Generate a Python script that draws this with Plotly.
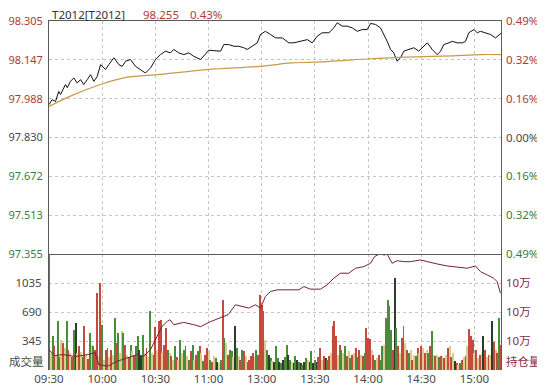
import plotly.graph_objects as go

# ---------------- data ----------------
# x positions are trading minutes since 09:30 (lunch break removed, 11:30 == 13:00)
time_ticks = [0, 30, 60, 90, 120, 150, 180, 210, 240]
time_labels = ["09:30", "10:00", "10:30", "11:00", "13:00", "13:30", "14:00", "14:30", "15:00"]

price_ticks = [98.305, 98.147, 97.988, 97.830, 97.672, 97.513, 97.355]
price_tick_colors = ["r", "r", "r", "n", "g", "g", "g"]
pct_labels = ["0.49%", "0.32%", "0.16%", "0.00%", "0.16%", "0.32%", "0.49%"]

vol_ticks = [345, 690, 1035]
vol_labels = ["345", "690", "1035"]
oi_ticks = [103000, 105000, 107000]
oi_labels = ["10万", "10万", "10万"]

price_min = [0, 1.8, 3.7, 5.5, 6.5, 8.0, 9.3, 10.3, 12.1, 14.0,
             15.9, 17.8, 19.6, 21.6, 23.4, 25.3, 27.2, 29.1, 31.9, 33.7,
             36.6, 39.4, 41.3, 43.2, 46.0, 48.8, 51.6, 54.4, 57.3, 60.1,
             62.9, 65.7, 68.5, 70.4, 73.2, 76.1, 78.9, 81.7, 85.5, 87.3,
             90.2, 93.0, 96.8, 98.6, 101.4, 104.3, 107.1, 109.9, 111.8, 114.6,
             117.5, 119.3, 122.1, 125.0, 127.8, 131.6, 135.3, 138.1, 141.9, 145.7,
             148.5, 151.3, 154.1, 157.9, 160.7, 162.6, 165.4, 168.2, 171.1, 173.9,
             176.7, 179.5, 181.4, 184.2, 187.0, 188.9, 190.8, 192.7, 194.5, 196.4,
             198.3, 200.2, 203.0, 205.8, 208.6, 211.5, 213.4, 216.2, 219.0, 220.9,
             222.7, 225.6, 227.5, 230.3, 233.1, 235.0, 236.8, 239.7, 241.6, 243.4,
             246.3, 249.1, 251.9, 253.8, 255]
price_val = [97.964, 97.984, 97.977, 98.018, 98.005, 98.025, 98.046, 98.033, 98.059, 98.073,
             98.052, 98.066, 98.046, 98.066, 98.086, 98.059, 98.079, 98.127, 98.107, 98.127,
             98.155, 98.127, 98.120, 98.141, 98.148, 98.120, 98.107, 98.093, 98.114, 98.148,
             98.168, 98.182, 98.175, 98.189, 98.175, 98.168, 98.175, 98.161, 98.148, 98.161,
             98.186, 98.184, 98.182, 98.209, 98.209, 98.202, 98.202, 98.196, 98.189, 98.202,
             98.216, 98.250, 98.263, 98.250, 98.236, 98.236, 98.216, 98.216, 98.222, 98.229,
             98.216, 98.243, 98.257, 98.257, 98.277, 98.298, 98.284, 98.284, 98.277, 98.263,
             98.270, 98.270, 98.295, 98.291, 98.277, 98.250, 98.222, 98.189, 98.175, 98.141,
             98.155, 98.182, 98.189, 98.196, 98.182, 98.202, 98.216, 98.189, 98.168, 98.182,
             98.209, 98.216, 98.222, 98.216, 98.216, 98.222, 98.257, 98.270, 98.257, 98.263,
             98.257, 98.250, 98.236, 98.250, 98.255]

avg_min = [0, 14.0, 29.1, 42.2, 61.0, 89.2, 119.3, 136.6, 149.3, 181.4, 196.4, 230.3, 243.4, 255]
avg_val = [97.957, 98.005, 98.046, 98.073, 98.086, 98.107, 98.120, 98.134, 98.137, 98.151,
           98.157, 98.164, 98.168, 98.168]

vol_min = list(range(256))
vol_val = [1400, 200, 409, 282, 180, 578, 150, 361, 326, 267,
           578, 243, 207, 150, 480, 559, 207, 282, 220, 150,
           519, 184, 130, 441, 302, 282, 243, 922, 170, 1033,
           539, 124, 243, 267, 150, 243, 180, 618, 322, 441,
           200, 460, 441, 302, 184, 150, 302, 222, 180, 282,
           400, 243, 163, 420, 207, 267, 150, 705, 207, 180,
           512, 243, 586, 598, 200, 302, 500, 243, 207, 163,
           120, 282, 150, 124, 361, 200, 243, 282, 163, 120,
           222, 302, 124, 180, 222, 282, 207, 110, 180, 267,
           243, 124, 100, 163, 143, 100, 80, 120, 835, 381,
           322, 180, 243, 222, 150, 519, 267, 163, 120, 243,
           222, 163, 100, 124, 163, 207, 150, 243, 180, 895,
           776, 697, 361, 243, 180, 143, 104, 90, 282, 143,
           100, 80, 124, 150, 302, 180, 124, 100, 80, 163,
           124, 100, 80, 60, 100, 143, 124, 100, 223, 80,
           124, 100, 150, 263, 124, 163, 143, 120, 163, 200,
           519, 578, 400, 180, 302, 243, 200, 282, 163, 222,
           143, 180, 207, 263, 150, 243, 180, 163, 200, 500,
           381, 370, 243, 184, 124, 143, 180, 124, 282, 300,
           618, 835, 756, 480, 243, 1092, 500, 282, 200, 381,
           519, 322, 243, 207, 243, 124, 180, 163, 263, 200,
           282, 263, 207, 243, 207, 282, 460, 180, 163, 184,
           150, 170, 163, 143, 180, 263, 282, 150, 207, 104,
           80, 60, 80, 124, 150, 163, 282, 492, 400, 361,
           200, 243, 143, 184, 200, 400, 243, 150, 184, 184,
           578, 338, 243, 200, 618, 300]
vol_kind = ("rygrygryry" "gryrgkyryg" "ryrgygrryr" "gyrgyrygrg" "yygryrgyrg"
            "gkkgyrygyr" "ryrryrrgyr" "ygrygygryg" "rgyrgrygrr" "ygrygkygrg"
            "yrggykgyrg" "rygrrrygrr" "rrygkgykgg" "kgkggkgykg" "kgkgkgykgk"
            "gkrryrkgry" "rrryrgygry" "gryrgryrgr" "rryrgyrggy" "ggggrkgryr"
            "ryrgyrygry" "ryrygrgyry" "gryryryryk" "rygryryrrr" "yryrykryry"
            "kryrgr")

oi_min = [0, 3, 8, 15, 22, 26, 28, 33, 38.5, 44,
          49.8, 53.5, 57.3, 61, 63.8, 66.7, 68.2, 70.4, 76, 81.7,
          85.5, 91, 96.7, 101, 105.2, 109, 112.7, 116.5, 119.3, 122.1,
          124.9, 128.7, 136.3, 141, 143.8, 147.5, 153.1, 156.9, 160.7, 164.4,
          169.1, 172.9, 177.6, 181.4, 183.6, 186.4, 189.3, 190.7, 193.6, 196.4,
          200.2, 203.9, 209.6, 213.3, 219, 224.6, 230.3, 235.9, 240.6, 243.4,
          247.2, 250.9, 252.8, 254.7]
oi_val = [102408, 101996, 102064, 101927, 102064, 102202, 101378, 101261, 101604, 101838,
          102064, 101948, 102408, 103321, 104008, 104351, 104468, 104124, 104282, 104124,
          103987, 104330, 104585, 104811, 105498, 105381, 105271, 105498, 105271, 106068,
          106411, 106528, 106528, 106528, 106755, 106576, 106576, 106871, 107331, 107675,
          107675, 108018, 108128, 108361, 108815, 109000, 108931, 109000, 108361, 108540,
          108471, 108471, 108588, 108471, 108313, 108176, 108087, 108018, 108176, 107784,
          107558, 107331, 107098, 106301]

# ---------------- style ----------------
RED = "#b23a36"
GREEN = "#3c7d3c"
GRAY = "#4a4a4a"
MAROON = "#8a2a48"
GRID = "#c4c4c4"
BORDER = "#5a5a5a"
FONT = "Noto Sans, Noto Sans CJK SC, sans-serif"
FS = 11.5
bar_colors = {"r": "#c44a3e", "g": "#4a8c3a", "y": "#dccb8a", "k": "#2a3f2a"}
lab_colors = {"r": RED, "g": GREEN, "n": GRAY}


def col(text, c):
    return '<span style="color:%s">%s</span>' % (c, text)


left_price_text = [col("%.3f" % v, lab_colors[k]) for v, k in zip(price_ticks, price_tick_colors)]
right_pct_text = [col(t, lab_colors[k]) for t, k in zip(pct_labels, price_tick_colors)]

fig = go.Figure()
fig.add_trace(go.Bar(x=vol_min, y=vol_val, xaxis="x", yaxis="y2",
                     marker=dict(color=[bar_colors[k] for k in vol_kind], line=dict(width=0)),
                     width=0.55, hoverinfo="skip"))
fig.add_trace(go.Scatter(x=oi_min, y=oi_val, xaxis="x", yaxis="y4", mode="lines",
                         line=dict(color="#7a2038", width=1), hoverinfo="skip"))
fig.add_trace(go.Scatter(x=avg_min, y=avg_val, xaxis="x2", yaxis="y3", mode="lines",
                         line=dict(color="#c89a4a", width=1.2, shape="spline"), hoverinfo="skip"))
fig.add_trace(go.Scatter(x=price_min, y=price_val, xaxis="x2", yaxis="y", mode="lines",
                         line=dict(color="#111111", width=1), hoverinfo="skip"))

# page body has an 8px margin, so the figure is sized to fit the remaining window
split = 116 / 349.0
common_x = dict(range=[0, 255], tickmode="array", tickvals=time_ticks, ticktext=time_labels,
                showgrid=True, gridcolor=GRID, griddash="dot", gridwidth=1, zeroline=False, ticks="",
                automargin=False)

fig.update_layout(
    width=537, height=383,
    margin=dict(l=41, r=44, t=13, b=21, autoexpand=False),
    paper_bgcolor="white", plot_bgcolor="white",
    showlegend=False,
    font=dict(family=FONT, size=FS, color=GRAY),
    xaxis=dict(common_x, domain=[0, 1], anchor="y2", showline=False,
               tickfont=dict(size=FS, color=GRAY)),
    xaxis2=dict(common_x, domain=[0, 1], anchor="y", matches="x", showticklabels=False,
                showline=True, mirror=True, linecolor=BORDER, linewidth=1),
    yaxis=dict(domain=[split, 1], anchor="x2", range=[97.355, 98.305], tickmode="array",
               tickvals=price_ticks, ticktext=left_price_text, showgrid=True, gridcolor=GRID,
               griddash="dot", zeroline=False, showline=True, mirror=True, linecolor=BORDER,
               ticks="", ticklabelstandoff=3, automargin=False, tickfont=dict(size=11)),
    yaxis3=dict(overlaying="y", side="right", anchor="x2", range=[97.355, 98.305], tickmode="array",
                tickvals=price_ticks, ticktext=right_pct_text, showgrid=False, zeroline=False,
                showline=False, ticks="", ticklabelstandoff=4, automargin=False),
    yaxis2=dict(domain=[0, split], anchor="x", range=[0, 1380], tickmode="array",
                tickvals=vol_ticks, ticktext=vol_labels, showgrid=True, gridcolor=GRID,
                griddash="dot", zeroline=False, showline=True, mirror=True, linecolor=BORDER,
                ticks="", ticklabelstandoff=4, tickfont=dict(color=GRAY), automargin=False),
    yaxis4=dict(overlaying="y2", side="right", anchor="x", range=[101000, 109000], tickmode="array",
                tickvals=oi_ticks, ticktext=oi_labels, showgrid=False, zeroline=False,
                showline=False, ticks="", ticklabelstandoff=4, tickfont=dict(color=MAROON),
                automargin=False),
    bargap=0,
)

HY = 1 + (13 - 6.5) / 349.0
annos = [
    dict(text="成交量", xref="paper", yref="y2", x=0, y=100, xanchor="right", yanchor="middle",
         xshift=-3, showarrow=False, font=dict(size=FS, color=GRAY)),
    dict(text="持仓量", xref="paper", yref="y2", x=1, y=100, xanchor="left", yanchor="middle",
         xshift=3, showarrow=False, font=dict(size=FS, color=MAROON)),
    dict(text="T2012[T2012]", xref="paper", yref="paper", x=0.002, y=HY, xanchor="left",
         yanchor="middle", showarrow=False, font=dict(size=FS, color="#333333")),
    dict(text="98.255", xref="paper", yref="paper", x=(141 - 49) / 452.0, y=HY, xanchor="left",
         yanchor="middle", showarrow=False, font=dict(size=FS, color=RED)),
    dict(text="0.43%", xref="paper", yref="paper", x=(188 - 49) / 452.0, y=HY, xanchor="left",
         yanchor="middle", showarrow=False, font=dict(size=FS, color=RED)),
]
fig.update_layout(annotations=annos)

fig.write_html("out.html")
